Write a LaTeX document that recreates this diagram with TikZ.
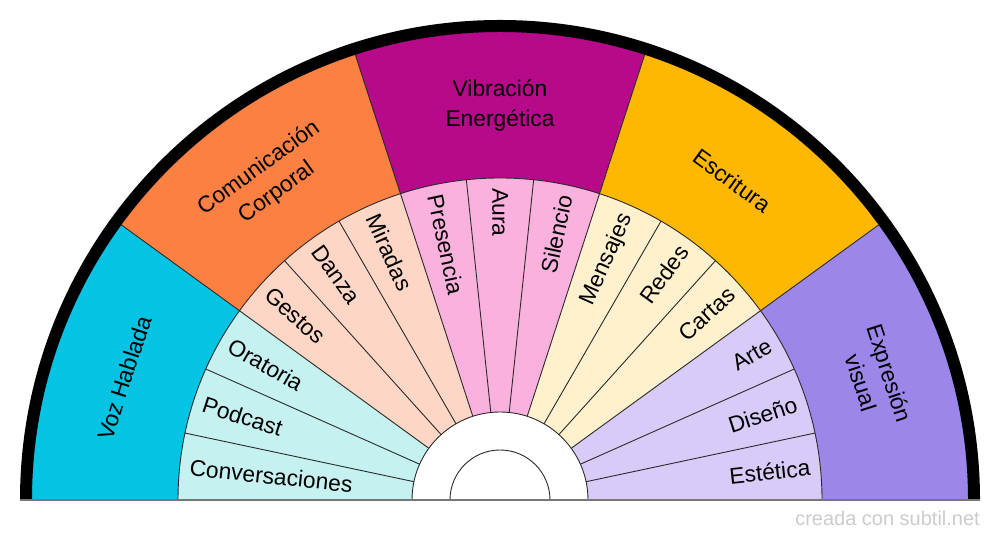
\documentclass[tikz,border=0pt]{standalone}
\usepackage{fontspec}
\setmainfont{Liberation Sans}
\definecolor{vozO}{HTML}{05C3E3}
\definecolor{vozI}{HTML}{C6F1F1}
\definecolor{comO}{HTML}{FD8043}
\definecolor{comI}{HTML}{FED6C5}
\definecolor{vibO}{HTML}{B70A8A}
\definecolor{vibI}{HTML}{FBB1DE}
\definecolor{escO}{HTML}{FFB801}
\definecolor{escI}{HTML}{FFF0CE}
\definecolor{expO}{HTML}{9C86E9}
\definecolor{expI}{HTML}{D9CBF8}
\definecolor{lineC}{HTML}{2A2A2A}
\definecolor{baseC}{HTML}{777777}
\definecolor{markC}{HTML}{CCCCCC}
\begin{document}
\begin{tikzpicture}[x=1pt,y=1pt,
  olbl/.style={font=\fontsize{22.8}{30}\selectfont, text=black, inner sep=0pt, align=center},
  llbl/.style={font=\fontsize{22.8}{27}\selectfont, text=black, inner sep=0pt, anchor=west},
  rlbl/.style={font=\fontsize{22.8}{27}\selectfont, text=black, inner sep=0pt, anchor=east},
  thinline/.style={draw=lineC, line width=0.9pt},
  wmark/.style={font=\fontsize{20}{24}\selectfont, text=markC, inner sep=0pt, anchor=base east}]
\useasboundingbox (0,0) rectangle (1000,540);
\begin{scope}[shift={(500,40)}]
  % outer sectors
  \foreach \i/\col in {0/vozO,1/comO,2/vibO,3/escO,4/expO} {
    \pgfmathsetmacro\a{180-36*\i}
    \pgfmathsetmacro\b{144-36*\i}
    \fill[\col] (\a:469) arc[start angle=\a, end angle=\b, radius=469]
      -- (\b:322) arc[start angle=\b, end angle=\a, radius=322] -- cycle;
  }
  % inner sectors
  \foreach \j/\col in {0/vozI,1/vozI,2/vozI,3/comI,4/comI,5/comI,6/vibI,7/vibI,8/vibI,9/escI,10/escI,11/escI,12/expI,13/expI,14/expI} {
    \pgfmathsetmacro\a{180-12*\j}
    \pgfmathsetmacro\b{168-12*\j}
    \fill[\col] (\a:322) arc[start angle=\a, end angle=\b, radius=322]
      -- (\b:88) arc[start angle=\b, end angle=\a, radius=88] -- cycle;
  }
  % divider lines
  \foreach \a in {168,156,132,120,96,84,60,48,24,12}
    \draw[thinline] (\a:88) -- (\a:322);
  \foreach \a in {144,108,72,36}
    \draw[thinline] (\a:88) -- (\a:469);
  % arcs
  \draw[thinline] (180:322) arc[start angle=180, end angle=0, radius=322];
  \draw[thinline] (180:88) arc[start angle=180, end angle=0, radius=88];
  \draw[thinline] (180:50) arc[start angle=180, end angle=0, radius=50];
  % outer black rim
  \draw[black, line width=12pt] (180:474) arc[start angle=180, end angle=0, radius=474];
  % base line
  \draw[baseC, line width=1.6pt] (-480,0) -- (480,0);
  % outer labels
  \node[olbl, rotate=72] (voz) at (162:395) {Voz Hablada};
  \node[olbl, rotate=36] (com) at (126:395) {Comunicación\\Corporal};
  \node[olbl] (vib) at (90:395) {Vibración\\Energética};
  \node[olbl, rotate=-36] (esc) at (54:395) {Escritura};
  \node[olbl, rotate=-72] (expv) at (18:395) {Expresión\\visual};
  % inner labels, left half
  \node[llbl, rotate=-6] (conv) at (174:312) {Conversaciones};
  \node[llbl, rotate=-18] (podc) at (162:312) {Podcast};
  \node[llbl, rotate=-30] (orat) at (150:312) {Oratoria};
  \node[llbl, rotate=-42] (gest) at (138:312) {Gestos};
  \node[llbl, rotate=-54] (danz) at (126:312) {Danza};
  \node[llbl, rotate=-66] (mira) at (114:312) {Miradas};
  \node[llbl, rotate=-78] (pres) at (102:312) {Presencia};
  \node[llbl, rotate=-90] (aura) at (90:312) {Aura};
  % inner labels, right half
  \node[rlbl, rotate=78] (sile) at (78:312) {Silencio};
  \node[rlbl, rotate=66] (mens) at (66:312) {Mensajes};
  \node[rlbl, rotate=54] (rede) at (54:312) {Redes};
  \node[rlbl, rotate=42] (cart) at (42:312) {Cartas};
  \node[rlbl, rotate=30] (arte) at (30:312) {Arte};
  \node[rlbl, rotate=18] (dise) at (18:312) {Diseño};
  \node[rlbl, rotate=6] (este) at (6:312) {Estética};
\end{scope}
\node[wmark] (wm) at (980,14) {creada con subtil.net};
\end{tikzpicture}
\end{document}
